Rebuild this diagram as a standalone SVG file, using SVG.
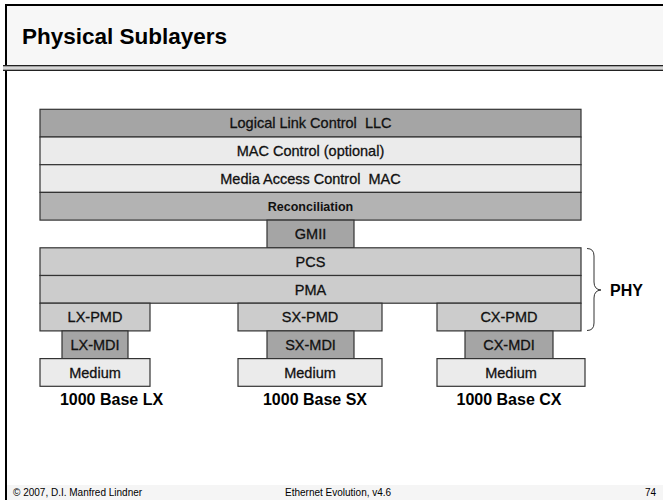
<svg xmlns="http://www.w3.org/2000/svg" width="663" height="500" viewBox="0 0 663 500">
  <style>
    .box { stroke: #333333; stroke-width: 1.2; }
    .dark { fill: #a5a5a5; }
    .mid { fill: #b3b3b3; }
    .grey { fill: #cccccc; }
    .light { fill: #ebebeb; }
    .lbl { font-family: "Liberation Sans", Arial, sans-serif; font-size: 14.5px; fill: #111111; stroke: #111111; stroke-width: 0.3; text-anchor: middle; }
    .blbl { font-family: "Liberation Sans", Arial, sans-serif; font-size: 12.5px; font-weight: bold; fill: #111111; text-anchor: middle; }
    .sys { font-family: "Liberation Sans", Arial, sans-serif; font-size: 16px; font-weight: bold; fill: #000000; text-anchor: middle; }
    .foot { font-family: "Liberation Sans", Arial, sans-serif; font-size: 10px; fill: #000000; }
  </style>

  <rect x="0" y="0" width="663" height="500" fill="#ffffff"/>

  <g id="frame">
    <rect x="7" y="6" width="656" height="59" fill="#f7f7f7"/>
    <rect x="7" y="485" width="656" height="15" fill="#f5f5f5"/>
    <line x1="6" y1="4" x2="6" y2="500" stroke="#000000" stroke-width="2"/>
    <line x1="5" y1="5" x2="663" y2="5" stroke="#000000" stroke-width="2"/>
    <rect x="3" y="65" width="660" height="6" fill="#a0a0a0"/>
    <line x1="3" y1="68" x2="663" y2="68" stroke="#e8e8e8" stroke-width="1.5"/>
    <line x1="3" y1="65.5" x2="663" y2="65.5" stroke="#222222" stroke-width="1"/>
    <line x1="3" y1="70.5" x2="663" y2="70.5" stroke="#222222" stroke-width="1"/>
    <text x="22" y="44" font-family="Liberation Sans, Arial, sans-serif" font-size="22.5" font-weight="bold" fill="#000000">Physical Sublayers</text>
  </g>

  <g id="llc">
    <rect class="box dark" x="40" y="109.3" width="541" height="27.7"/>
    <text class="lbl" x="310.5" y="128.3" xml:space="preserve">Logical Link Control  LLC</text>
  </g>
  <g id="mac-control">
    <rect class="box light" x="40" y="137" width="541" height="27.7"/>
    <text class="lbl" x="310.5" y="156" xml:space="preserve">MAC Control (optional)</text>
  </g>
  <g id="mac">
    <rect class="box light" x="40" y="164.7" width="541" height="27.7"/>
    <text class="lbl" x="310.5" y="183.7" xml:space="preserve">Media Access Control  MAC</text>
  </g>
  <g id="reconciliation">
    <rect class="box mid" x="40" y="192.4" width="541" height="27.7"/>
    <text class="blbl" x="310.5" y="210.7">Reconciliation</text>
  </g>
  <g id="gmii">
    <rect class="box dark" x="267" y="220.1" width="87" height="27.7"/>
    <text class="lbl" x="310.5" y="239.1">GMII</text>
  </g>
  <g id="pcs">
    <rect class="box grey" x="40" y="247.8" width="541" height="27.7"/>
    <text class="lbl" x="310.5" y="266.8">PCS</text>
  </g>
  <g id="pma">
    <rect class="box grey" x="40" y="275.5" width="541" height="27.7"/>
    <text class="lbl" x="310.5" y="294.5">PMA</text>
  </g>

  <g id="lx-pmd">
    <rect class="box grey" x="40" y="303.2" width="110" height="27.7"/>
    <text class="lbl" x="95" y="322.2">LX-PMD</text>
  </g>
  <g id="lx-mdi">
    <rect class="box dark" x="62" y="330.9" width="66" height="27.7"/>
    <text class="lbl" x="95" y="349.9">LX-MDI</text>
  </g>
  <g id="lx-medium">
    <rect class="box light" x="40" y="358.6" width="110" height="27.7"/>
    <text class="lbl" x="95" y="377.6">Medium</text>
  </g>
  <g id="lx-label">
    <text class="sys" x="111.5" y="405">1000 Base LX</text>
  </g>

  <g id="sx-pmd">
    <rect class="box grey" x="238" y="303.2" width="144" height="27.7"/>
    <text class="lbl" x="310" y="322.2">SX-PMD</text>
  </g>
  <g id="sx-mdi">
    <rect class="box dark" x="267" y="330.9" width="87" height="27.7"/>
    <text class="lbl" x="310.5" y="349.9">SX-MDI</text>
  </g>
  <g id="sx-medium">
    <rect class="box light" x="238" y="358.6" width="144" height="27.7"/>
    <text class="lbl" x="310" y="377.6">Medium</text>
  </g>
  <g id="sx-label">
    <text class="sys" x="315" y="405">1000 Base SX</text>
  </g>

  <g id="cx-pmd">
    <rect class="box grey" x="437" y="303.2" width="144" height="27.7"/>
    <text class="lbl" x="509" y="322.2">CX-PMD</text>
  </g>
  <g id="cx-mdi">
    <rect class="box dark" x="465" y="330.9" width="88" height="27.7"/>
    <text class="lbl" x="509" y="349.9">CX-MDI</text>
  </g>
  <g id="cx-medium">
    <rect class="box light" x="437" y="358.6" width="148" height="27.7"/>
    <text class="lbl" x="511" y="377.6">Medium</text>
  </g>
  <g id="cx-label">
    <text class="sys" x="509" y="405">1000 Base CX</text>
  </g>

  <g id="connectors">
    <path d="M587,248.5 Q594,248.5 594,256 L594,282 Q594,289.5 601,290 Q594,290.5 594,298 L594,323 Q594,330.5 587,330.5" fill="none" stroke="#333333" stroke-width="1"/>
  </g>
  <g id="phy">
    <text x="610" y="295.5" font-family="Liberation Sans, Arial, sans-serif" font-size="16" font-weight="bold" fill="#000000">PHY</text>
  </g>

  <g id="footer">
    <text class="foot" x="13" y="496">© 2007, D.I. Manfred Lindner</text>
    <text class="foot" x="285" y="496">Ethernet Evolution, v4.6</text>
    <text class="foot" x="656" y="496" text-anchor="end" font-size="11">74</text>
  </g>
</svg>
